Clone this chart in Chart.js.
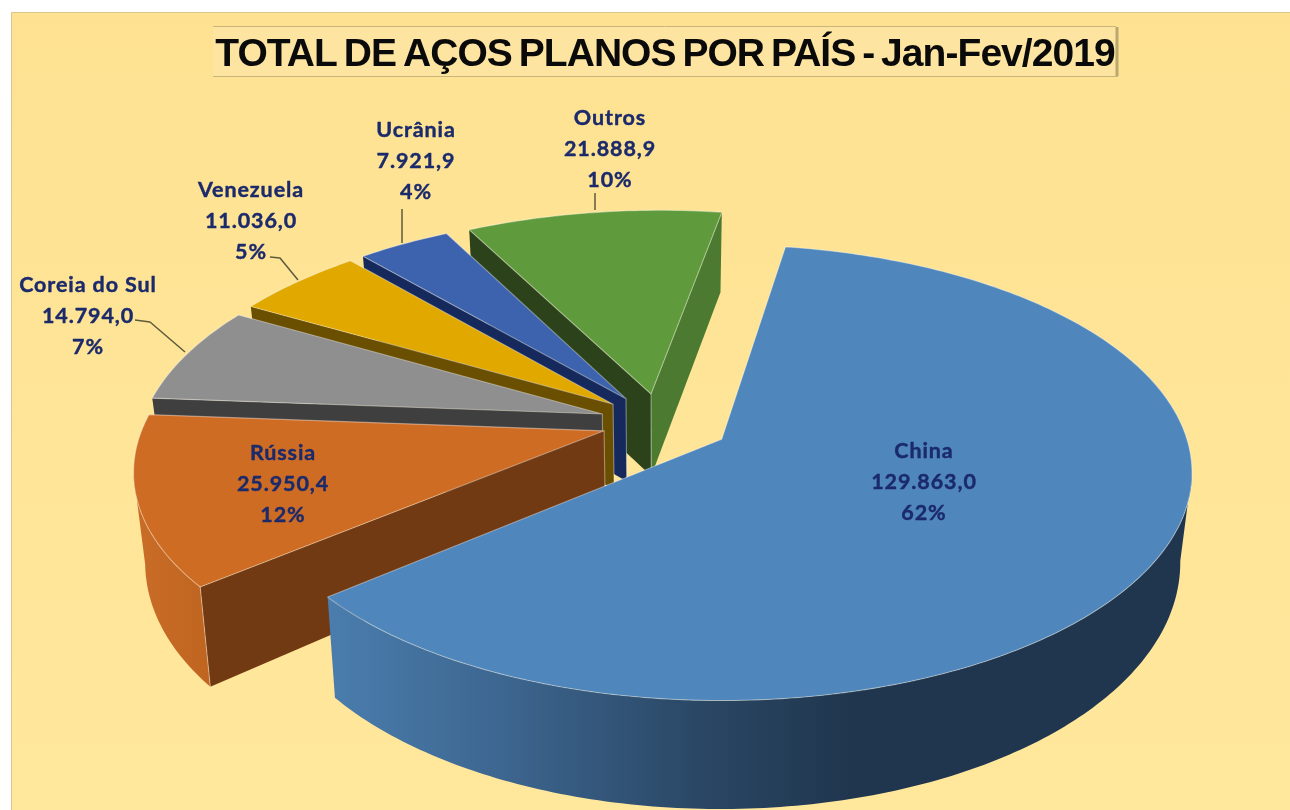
<!DOCTYPE html>
<html><head><meta charset="utf-8">
<style>html,body{margin:0;padding:0;background:#fff}canvas{display:block}</style>
<script src="https://cdn.jsdelivr.net/npm/chart.js@4/dist/chart.umd.min.js"></script>
</head><body><canvas id="c" width="1290" height="810"></canvas>
<script>
const titleText = 'TOTAL DE AÇOS PLANOS POR PAÍS - Jan-Fev/2019';
const categories = ['China','Rússia','Coreia do Sul','Venezuela','Ucrânia','Outros'];
const values = [129863.0,25950.4,14794.0,11036.0,7921.9,21888.9];
const valueTexts = ['129.863,0','25.950,4','14.794,0','11.036,0','7.921,9','21.888,9'];
const percentTexts = ['62%','12%','7%','5%','4%','10%'];
const topColors = ['#4f86bc','#cf6c24','#8f8f8f','#e1a800','#3d63ae','#5f9a3c'];
const startWallColors = ['#203650','#713a12','#3f3f3f','#6b4f00','#16295c','#2c421a'];
const endWallColors = ['#203650','#713a12','#3f3f3f','#6b4f00','#16295c','#4c7a30'];
const rimStops = [
 [[330,'#4a7dad'],[500,'#3d6690'],[700,'#2a4765'],[850,'#20364e'],[1200,'#20364e']],
 [[130,'#c96d28'],[210,'#c0651f']],
 [[130,'#6f6f6f'],[300,'#6f6f6f']],
 [[240,'#a87e00'],[350,'#a87e00']],
 [[350,'#2b4a8c'],[450,'#2b4a8c']],
 [[460,'#3f6a28'],[730,'#3f6a28']]
];
const explode = [71,58,61,62,62,62];
const labelCentres = [[924,451],[283,453],[88,285],[251,190],[416,130],[610,118]];
const leaderLines = [[[135,320],[150,322],[185,352]],[[270,257],[280,258],[298,280]],[[402,209],[402,243]],[[595,193],[595,210]]];
const cam = {dx:-5, k:0.474, a:3.16e-4, skew:-0.02, shrink:0.978};

function project(arc,X,Y,low){
  const w = 1 - cam.a*Y;
  const x0 = arc.x + cam.dx;
  let x = x0 + (X + cam.skew*Y)/w, y = arc.y + cam.k*Y/w;
  if(low){ x = x0 + (x-x0)*cam.shrink; y += Math.max(80, 85 + (1-w)*150); }
  return {x,y};
}
const sliceDraw = {
  id:'sliceDraw',
  beforeDraw(chart){
    const c = chart.ctx, H = chart.height, W = chart.width;
    c.save();
    c.fillStyle='#fff'; c.fillRect(0,0,W,H);
    const g=c.createLinearGradient(0,12,0,H); g.addColorStop(0,'#fee292'); g.addColorStop(1,'#ffe79c');
    c.fillStyle=g; c.fillRect(11,12,W-11,H-12);
    c.strokeStyle='#d9c68e'; c.lineWidth=1; c.beginPath(); c.moveTo(11.5,H); c.lineTo(11.5,12.5); c.lineTo(W,12.5); c.stroke();
    c.fillStyle='#fde4a0'; c.fillRect(213,27,903,49);
    c.strokeStyle='#c9b47c'; c.lineWidth=1; c.beginPath(); c.moveTo(213,26.5); c.lineTo(1116,26.5); c.moveTo(213,76.5); c.lineTo(1118,76.5); c.stroke();
    c.strokeStyle='#bba86f'; c.lineWidth=3; c.beginPath(); c.moveTo(1117,27); c.lineTo(1117,76); c.stroke();
    c.restore();
    c.letterSpacing='-0.95px'; c.wordSpacing='-3px';
  },
  beforeDatasetDraw(chart,args){
    const c = chart.ctx, arcs = args.meta.data;
    c.letterSpacing='0px'; c.wordSpacing='0px';
    const order = arcs.map((a,i)=>i).sort((p,q)=>Math.sin((arcs[p].startAngle+arcs[p].endAngle)/2)-Math.sin((arcs[q].startAngle+arcs[q].endAngle)/2));
    for(const i of order){
      const a = arcs[i], R = a.outerRadius, mid=(a.startAngle+a.endAngle)/2, off=explode[i];
      const ox=Math.cos(mid)*off, oy=Math.sin(mid)*off;
      const pts=[]; const n=Math.ceil((a.endAngle-a.startAngle)/0.015);
      for(let s=0;s<=n;s++){ const t=a.startAngle+(a.endAngle-a.startAngle)*s/n; pts.push([ox+R*Math.cos(t),oy+R*Math.sin(t)]); }
      const T=p=>project(a,p[0],p[1],false), B=p=>project(a,p[0],p[1],true);
      const ap=[ox,oy];
      const quad=(p,q,col)=>{const A=T(p),C=T(q),D=B(q),E=B(p);c.fillStyle=col;c.beginPath();c.moveTo(A.x,A.y);c.lineTo(C.x,C.y);c.lineTo(D.x,D.y);c.lineTo(E.x,E.y);c.closePath();c.fill();};
      const startVisible=T(pts[0]).x<T(ap).x, endVisible=T(ap).x<T(pts[n]).x;
      if(startVisible) quad(ap,pts[0],startWallColors[i]);
      if(endVisible) quad(pts[n],ap,endWallColors[i]);
      const vis=[]; for(let s=0;s<=n;s++){ const here=T(pts[s]); const nb=s<n?T(pts[s+1]):T(pts[s-1]); const d=s<n?nb.x-here.x:here.x-nb.x; if(d<0) vis.push(pts[s]); }
      if(vis.length>1){
        const st=rimStops[i], lo=st[0][0], hi=st[st.length-1][0];
        const g=c.createLinearGradient(lo,0,hi,0);
        st.forEach(s=>g.addColorStop((s[0]-lo)/(hi-lo),s[1]));
        c.fillStyle=g; c.beginPath();
        vis.forEach((p,j)=>{const q=T(p); j?c.lineTo(q.x,q.y):c.moveTo(q.x,q.y);});
        vis.slice().reverse().forEach(p=>{const q=B(p); c.lineTo(q.x,q.y);});
        c.closePath(); c.fill();
      }
      c.fillStyle=topColors[i]; c.beginPath();
      let q=T(ap); c.moveTo(q.x,q.y);
      pts.forEach(p=>{const r=T(p); c.lineTo(r.x,r.y);});
      c.closePath(); c.fill();
      c.strokeStyle='rgba(255,255,255,0.38)'; c.lineWidth=1.1; c.lineJoin='round'; c.stroke();
      c.strokeStyle='rgba(255,255,255,0.4)'; c.beginPath();
      if(i!==0){ const u=T(ap),v=B(ap); c.moveTo(u.x,u.y); c.lineTo(v.x,v.y); }
      if(i===1){ const u=T(pts[0]),v=B(pts[0]); c.moveTo(u.x,u.y); c.lineTo(v.x,v.y); }
      c.stroke();
    }
    return false;
  },
  afterDatasetsDraw(chart){
    const c = chart.ctx;
    c.save();
    c.strokeStyle='#5e5a3c'; c.lineWidth=1.5;
    leaderLines.forEach(l=>{c.beginPath(); l.forEach((p,j)=>j?c.lineTo(p[0],p[1]):c.moveTo(p[0],p[1])); c.stroke();});
    c.fillStyle='#1b2a6b'; c.strokeStyle='#1b2a6b'; c.lineWidth=0.4; c.font='bold 21.5px Lato'; c.textAlign='center'; c.textBaseline='middle'; c.letterSpacing='0.9px';
    categories.forEach((name,i)=>{
      const [x,y]=labelCentres[i];
      [[name,0],[valueTexts[i],31],[percentTexts[i],62]].forEach(([t,d])=>{c.fillText(t,x,y+d); c.strokeText(t,x,y+d);});
    });
    c.restore();
  }
};
new Chart(document.getElementById('c'),{
  type:'pie',
  data:{labels:categories,datasets:[{data:values,backgroundColor:topColors,offset:explode,borderWidth:0}]},
  options:{
    responsive:false,animation:false,rotation:9,radius:460,
    layout:{padding:{left:40,right:0,top:0,bottom:44}},
    plugins:{
      legend:{display:false},tooltip:{enabled:false},
      title:{display:true,text:titleText,color:'#0a0a0a',align:'center',font:{family:'"Liberation Sans"',size:39,weight:'bold',lineHeight:1.2},padding:{top:32,bottom:0}}
    }
  },
  plugins:[sliceDraw]
});
</script></body></html>
